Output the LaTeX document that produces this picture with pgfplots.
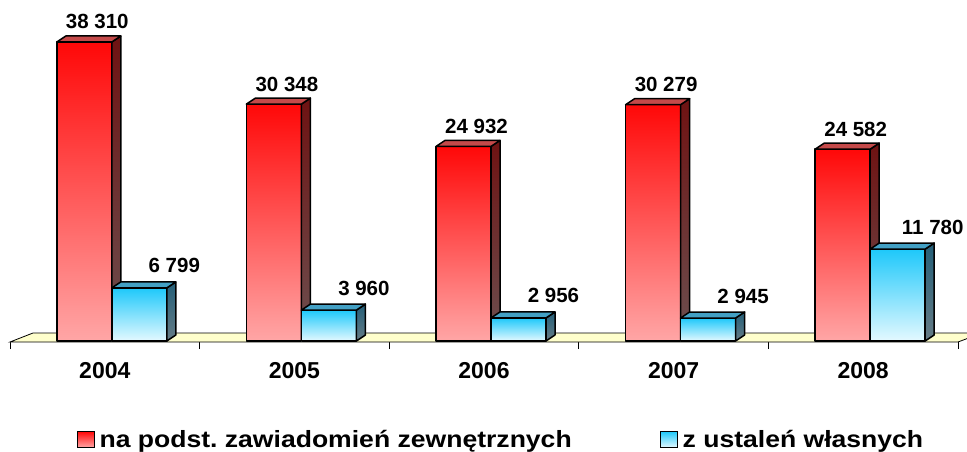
\documentclass[border=0pt]{standalone}
\usepackage{pgfplots}
\pgfplotsset{compat=1.18}
\usepackage{pgfplotstable}
\usepackage{fontspec}
\setmainfont{Liberation Sans}
\newfontfamily\legfont[FakeStretch=1.13]{Liberation Sans}

\definecolor{redtop}{HTML}{FF0808}
\definecolor{redbot}{HTML}{FFA6A6}
\definecolor{redsidetop}{HTML}{6E1212}
\definecolor{redsidebot}{HTML}{6C5050}
\definecolor{redface}{HTML}{C44A4A}
\definecolor{bluetop}{HTML}{1EC8FA}
\definecolor{bluebot}{HTML}{E4F9FF}
\definecolor{bluesidetop}{HTML}{245F78}
\definecolor{bluesidebot}{HTML}{667C86}
\definecolor{blueface}{HTML}{43A0C4}
\definecolor{floorc}{HTML}{FFFFCC}

\pgfplotstableread{
x red blue
0.5 38310 6799
1.5 30348 3960
2.5 24932 2956
3.5 30279 2945
4.5 24582 11780
}\datatab

% bar height in bp = transformed point meta (point meta max chosen so 1 unit = 0.007805 bp)
\pgfdeclareplotmark{redbar}{%
  \pgfmathsetlengthmacro\hh{\pgfplotspointmetatransformed*1bp}%
  \path[draw=black, line width=1.5bp, line join=round, top color=redtop, bottom color=redbot]
    (-48bp,-\hh) rectangle (7bp,0bp);
  \path[draw=black, line width=1.5bp, line join=round, top color=redsidetop, bottom color=redsidebot]
    (7bp,0bp) -- (16bp,6bp) -- (16bp,6bp-\hh) -- (7bp,-\hh) -- cycle;
  \path[draw=black, line width=1.5bp, line join=round, fill=redface]
    (-48bp,0bp) -- (7bp,0bp) -- (16bp,6bp) -- (-39bp,6bp) -- cycle;
}
\pgfdeclareplotmark{bluebar}{%
  \pgfmathsetlengthmacro\hh{\pgfplotspointmetatransformed*1bp}%
  \path[draw=black, line width=1.5bp, line join=round, top color=bluetop, bottom color=bluebot]
    (7bp,-\hh) rectangle (62bp,0bp);
  \path[draw=black, line width=1.5bp, line join=round, top color=bluesidetop, bottom color=bluesidebot]
    (62bp,0bp) -- (71bp,6bp) -- (71bp,6bp-\hh) -- (62bp,-\hh) -- cycle;
  \path[draw=black, line width=1.5bp, line join=round, fill=blueface]
    (7bp,0bp) -- (62bp,0bp) -- (71bp,6bp) -- (16bp,6bp) -- cycle;
}

\begin{document}
\begin{tikzpicture}
\begin{axis}[
  scale only axis, width=967bp, height=342bp,
  xmin=-0.05274, xmax=5.04746, ymin=-128, ymax=43690,
  clip=false,
  axis line style={draw=none},
  ytick=\empty,
  xtick={0.5,1.5,2.5,3.5,4.5},
  xticklabels={2004,2005,2006,2007,2008},
  minor xtick={0,1,2,3,4,5},
  major tick length=0pt, minor tick length=7bp,
  tick align=outside, xtick pos=left,
  tick style={black, line width=0.8bp},
  xticklabel style={font=\bfseries\fontsize{23bp}{27bp}\selectfont, anchor=base, yshift=-36bp},
  /pgf/number format/1000 sep={\ },
  /pgf/number format/assume math mode=true,
  /pgf/number format/fixed,
  /pgf/number format/precision=0,
  legend columns=2,
  legend cell align=left,
  legend style={at={(axis description cs:0.518,-0.2850)}, anchor=center, draw=none, fill=none,
    font=\legfont\bfseries\fontsize{23.5bp}{28bp}\selectfont,
    /tikz/every even column/.append style={column sep=86bp}},
]
\addplot[forget plot, fill=floorc, draw=black, line width=0.8bp]
  coordinates {(0,-128) (5,-128) (5.1266,1025) (0.1213,1025)} -- cycle;

\addplot[forget plot, scatter, only marks, mark=redbar,
  point meta=explicit, point meta min=0, point meta max=128123,
  nodes near coords,
  every node near coord/.append style={font=\bfseries\fontsize{20.5bp}{24bp}\selectfont, anchor=base, xshift=-7.5bp, yshift=13bp, text=black}]
  table[x=x, y=red, meta=red] {\datatab};

\addplot[forget plot, scatter, only marks, mark=bluebar,
  point meta=explicit, point meta min=0, point meta max=128123,
  nodes near coords,
  every node near coord/.append style={font=\bfseries\fontsize{20.5bp}{24bp}\selectfont, anchor=base, xshift=69.5bp, yshift=15bp, text=black}]
  table[x=x, y=blue, meta=blue] {\datatab};

\addlegendimage{legend image code/.code={\draw[draw=black, line width=1.5bp, top color=redtop, bottom color=redbot] (0bp,-8bp) rectangle (17bp,8bp); \path (20bp,0bp);}}
\addlegendentry{na podst.\ zawiadomień zewnętrznych}
\addlegendimage{legend image code/.code={\draw[draw=black, line width=1.5bp, top color=bluetop, bottom color=bluebot] (0bp,-8bp) rectangle (17bp,8bp); \path (20bp,0bp);}}
\addlegendentry{z ustaleń własnych}
\end{axis}
\pgfresetboundingbox
\path (current axis.south west) ++(0bp,-110bp) rectangle (current axis.north east);
\end{tikzpicture}
\end{document}
